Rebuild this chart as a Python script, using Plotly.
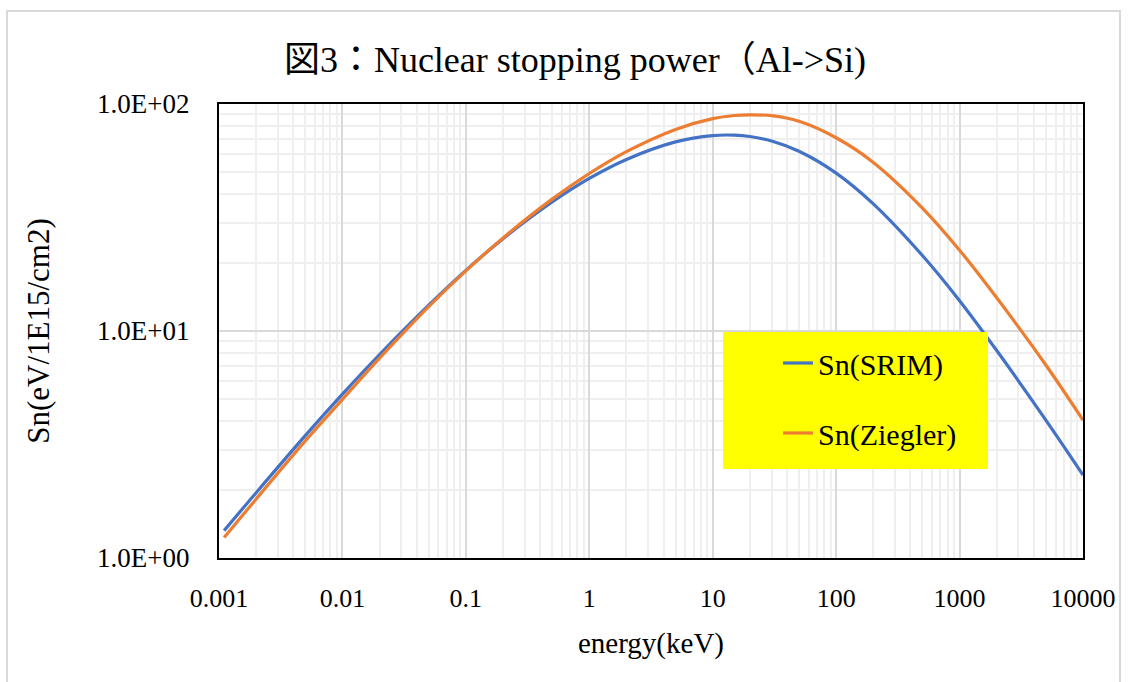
import plotly.graph_objects as go

# ---- data ----
energy_keV = [0.0011, 0.002, 0.005, 0.01, 0.02, 0.05, 0.1, 0.2, 0.5, 1, 2, 5,
              10, 15, 20, 30, 50, 100, 200, 500, 1000, 2000, 5000, 10000]
sn_srim = [1.32, 1.94, 3.46, 5.27, 7.88, 13.0, 18.5, 25.5, 37.0, 47.0, 57.0, 68.1,
           72.6, 72.9, 71.9, 68.7, 61.9, 49.6, 36.3, 21.5, 13.6, 8.2, 4.05, 2.32]
sn_ziegler = [1.23, 1.82, 3.28, 5.0, 7.59, 12.8, 18.4, 25.7, 38.1, 49.4, 61.7, 77.3,
              86.2, 89.0, 89.6, 88.8, 83.9, 71.0, 55.3, 34.8, 22.7, 14.0, 7.08, 4.05]

x_tick_vals = [0.001, 0.01, 0.1, 1, 10, 100, 1000, 10000]
x_tick_text = ["0.001", "0.01", "0.1", "1", "10", "100", "1000", "10000"]
y_tick_vals = [1, 10, 100]
y_tick_text = ["1.0E+00", "1.0E+01", "1.0E+02"]

series_names = ["Sn(SRIM)", "Sn(Ziegler)"]
series_colors = ["#4472C4", "#ED7D31"]

title_text = "図3：Nuclear stopping power（Al->Si)"
x_title = "energy(keV)"
y_title = "Sn(eV/1E15/cm2)"

FONT = "Liberation Serif, Noto Sans CJK JP, serif"

# ---- layout geometry (pixels) ----
W, H = 1132, 682
L, R, T, B = 219, 1083, 104, 558
pw, ph = R - L, B - T


def px_x(p):
    return (p - L) / pw


def px_y(p):
    return (B - p) / ph


fig = go.Figure()
for name, ys, col in zip(series_names, [sn_srim, sn_ziegler], series_colors):
    fig.add_trace(go.Scatter(
        x=energy_keV, y=ys, name=name, mode="lines",
        line=dict(color=col, width=3.2, shape="spline", smoothing=1.0),
        legendgroup=name,
    ))

axis_common = dict(
    type="log",
    showline=True, linecolor="black", linewidth=2, mirror=True,
    showgrid=True, gridcolor="#d9d9d9", gridwidth=2,
    ticks="", zeroline=False,
    tickmode="array",
    minor=dict(dtick="D1", showgrid=True, gridcolor="#efefef", gridwidth=2, ticks=""),
)

fig.update_xaxes(
    **axis_common,
    range=[-3, 4],
    tickvals=x_tick_vals, ticktext=x_tick_text,
    tickfont=dict(family=FONT, size=26, color="black"),
    ticklabelstandoff=16,
    title=dict(text=x_title, font=dict(family=FONT, size=29, color="black"), standoff=20),
)
fig.update_yaxes(
    **axis_common,
    range=[0, 2],
    tickvals=y_tick_vals, ticktext=y_tick_text,
    tickfont=dict(family=FONT, size=27, color="black"),
    ticklabelstandoff=22,
    title=dict(text=y_title, font=dict(family=FONT, size=31, color="black"), standoff=38),
)

# outer chart frame and yellow legend box
fig.add_shape(type="rect", xref="paper", yref="paper",
              x0=px_x(7), x1=px_x(1120), y0=px_y(700), y1=px_y(11),
              line=dict(color="#d9d9d9", width=2), fillcolor="rgba(0,0,0,0)", layer="below")
fig.add_shape(type="rect", xref="paper", yref="paper",
              x0=px_x(723), x1=px_x(988), y0=px_y(469), y1=px_y(332),
              line=dict(width=0), fillcolor="#FFFF00", layer="above")

fig.update_layout(
    width=W, height=H,
    margin=dict(l=L, r=W - R, t=T, b=H - B, autoexpand=False),
    paper_bgcolor="white", plot_bgcolor="white",
    title=dict(text=title_text, x=575 / W, xref="container", xanchor="center",
               y=1 - 59 / H, yref="container", yanchor="middle",
               font=dict(family=FONT, size=36, color="black")),
    showlegend=True,
    legend=dict(x=px_x(778), y=px_y(337), xanchor="left", yanchor="top",
                bgcolor="rgba(0,0,0,0)", borderwidth=0,
                font=dict(family=FONT, size=30, color="black"),
                tracegroupgap=28, traceorder="grouped"),
)

fig.write_html("out.html")
